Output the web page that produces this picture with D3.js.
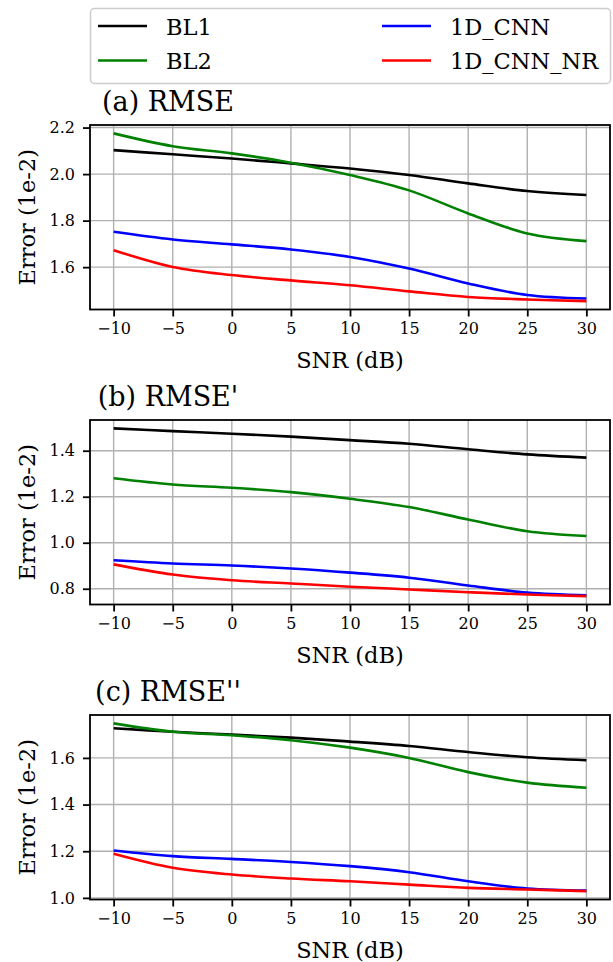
<!DOCTYPE html>
<html>
<head>
<meta charset="utf-8">
<script src="https://cdn.jsdelivr.net/npm/d3@7"></script>
<style>
  html, body { margin: 0; padding: 0; background: #fff; }
  svg { display: block; font-family: 'DejaVu Serif', serif; }
</style>
</head>
<body>
<div id="chart"></div>
<script>
const WIDTH = 613
const HEIGHT = 962

// SNR values (dB)
const snr = [-10, -5, 0, 5, 10, 15, 20, 25, 30]
const xTicks = [-10, -5, 0, 5, 10, 15, 20, 25, 30]

const seriesNames = ['BL1', 'BL2', '1D_CNN', '1D_CNN_NR']
const seriesColors = ['#000000', '#008000', '#0000ff', '#ff0000']

// (a) RMSE
const rmseBL1   = [2.103, 2.085, 2.067, 2.046, 2.024, 1.996, 1.960, 1.927, 1.910]
const rmseBL2   = [2.175, 2.120, 2.089, 2.049, 1.996, 1.930, 1.831, 1.745, 1.712]
const rmseCNN   = [1.752, 1.719, 1.698, 1.676, 1.644, 1.594, 1.530, 1.480, 1.465]
const rmseCNNNR = [1.673, 1.601, 1.566, 1.543, 1.522, 1.496, 1.472, 1.461, 1.454]
const rmseTicks = [1.6, 1.8, 2.0, 2.2]

// (b) RMSE'
const rmse1BL1   = [1.497, 1.485, 1.474, 1.461, 1.446, 1.430, 1.406, 1.384, 1.370]
const rmse1BL2   = [1.280, 1.253, 1.239, 1.220, 1.191, 1.155, 1.101, 1.050, 1.029]
const rmse1CNN   = [0.924, 0.910, 0.901, 0.888, 0.870, 0.848, 0.814, 0.783, 0.771]
const rmse1CNNNR = [0.906, 0.862, 0.837, 0.823, 0.809, 0.797, 0.785, 0.775, 0.768]
const rmse1Ticks = [0.8, 1.0, 1.2, 1.4]

// (c) RMSE''
const rmse2BL1   = [1.727, 1.712, 1.700, 1.687, 1.670, 1.651, 1.625, 1.603, 1.590]
const rmse2BL2   = [1.748, 1.712, 1.697, 1.676, 1.644, 1.600, 1.539, 1.494, 1.472]
const rmse2CNN   = [1.203, 1.179, 1.167, 1.154, 1.136, 1.110, 1.071, 1.040, 1.031]
const rmse2CNNNR = [1.189, 1.129, 1.100, 1.083, 1.071, 1.057, 1.043, 1.036, 1.029]
const rmse2Ticks = [1.0, 1.2, 1.4, 1.6]

const panels = [
  { title: '(a) RMSE',   top: 125, series: [rmseBL1, rmseBL2, rmseCNN, rmseCNNNR],     ticks: rmseTicks },
  { title: "(b) RMSE'",  top: 420, series: [rmse1BL1, rmse1BL2, rmse1CNN, rmse1CNNNR], ticks: rmse1Ticks },
  { title: "(c) RMSE''", top: 715, series: [rmse2BL1, rmse2BL2, rmse2CNN, rmse2CNNNR], ticks: rmse2Ticks },
]

const AX_LEFT = 90
const AX_RIGHT = 610
const AX_H = 184.5

const svg = d3.select('#chart').append('svg')
  .attr('width', WIDTH).attr('height', HEIGHT)

const x = d3.scaleLinear().domain([-12, 32]).range([AX_LEFT, AX_RIGHT])

panels.forEach(p => {
  const all = p.series.flat()
  const [lo, hi] = d3.extent(all)
  const pad = (hi - lo) * 0.05
  const y = d3.scaleLinear().domain([lo - pad, hi + pad]).range([p.top + AX_H, p.top])
  const g = svg.append('g')

  // grid
  g.append('g').selectAll('line').data(xTicks).join('line')
    .attr('x1', d => x(d)).attr('x2', d => x(d))
    .attr('y1', p.top).attr('y2', p.top + AX_H)
    .attr('stroke', '#b0b0b0').attr('stroke-width', 1.4)
  g.append('g').selectAll('line').data(p.ticks).join('line')
    .attr('x1', AX_LEFT).attr('x2', AX_RIGHT)
    .attr('y1', d => y(d)).attr('y2', d => y(d))
    .attr('stroke', '#b0b0b0').attr('stroke-width', 1.4)

  // lines
  const line = d3.line()
    .x((_, i) => x(snr[i]))
    .y(v => y(v))
    .curve(d3.curveCatmullRom.alpha(0.5))
  p.series.forEach((s, i) => {
    g.append('path').attr('d', line(s))
      .attr('fill', 'none')
      .attr('stroke', seriesColors[i])
      .attr('stroke-width', 2.6)
  })

  // frame
  g.append('rect')
    .attr('x', AX_LEFT).attr('y', p.top)
    .attr('width', AX_RIGHT - AX_LEFT).attr('height', AX_H)
    .attr('fill', 'none').attr('stroke', '#000').attr('stroke-width', 1.8)

  // axes
  const xAxis = g.append('g')
    .attr('transform', `translate(0,${p.top + AX_H})`)
    .call(d3.axisBottom(x).tickValues(xTicks).tickFormat(d3.format('d')).tickSize(7).tickPadding(6))
  const yAxis = g.append('g')
    .attr('transform', `translate(${AX_LEFT},0)`)
    .call(d3.axisLeft(y).tickValues(p.ticks).tickFormat(d3.format('.1f')).tickSize(7).tickPadding(8))
  ;[xAxis, yAxis].forEach(a => {
    a.attr('font-family', null)
    a.select('.domain').remove()
    a.selectAll('line').attr('stroke', '#000').attr('stroke-width', 1.8)
    a.selectAll('text').attr('fill', '#000')
      .style('font-family', "'DejaVu Serif', serif").style('font-size', '16px')
  })

  // labels
  g.append('text')
    .attr('x', (AX_LEFT + AX_RIGHT) / 2).attr('y', p.top + AX_H + 58)
    .attr('text-anchor', 'middle')
    .style('font-size', '22.5px')
    .text('SNR (dB)')
  g.append('text')
    .attr('transform', `translate(35,${p.top + AX_H / 2}) rotate(-90)`)
    .attr('text-anchor', 'middle')
    .style('font-size', '22.5px')
    .text('Error (1e-2)')
  g.append('text')
    .attr('x', 168).attr('y', p.top - 14)
    .attr('text-anchor', 'middle')
    .style('font-size', '27px')
    .text(p.title)
})

// legend
const leg = svg.append('g')
leg.append('rect')
  .attr('x', 90.5).attr('y', 8.5).attr('width', 520).attr('height', 75)
  .attr('rx', 4).attr('fill', '#fff').attr('fill-opacity', 0.8)
  .attr('stroke', '#cccccc').attr('stroke-width', 1.5)
const legCols = [98, 382]
const legRows = [26, 60.5]
seriesNames.forEach((name, i) => {
  const cx = legCols[Math.floor(i / 2)]
  const cy = legRows[i % 2]
  leg.append('line')
    .attr('x1', cx).attr('x2', cx + 49).attr('y1', cy).attr('y2', cy)
    .attr('stroke', seriesColors[i]).attr('stroke-width', 2.6)
  leg.append('text')
    .attr('x', cx + 68).attr('y', cy + 8.5)
    .style('font-size', '22.5px')
    .text(name)
})
</script>
</body>
</html>
